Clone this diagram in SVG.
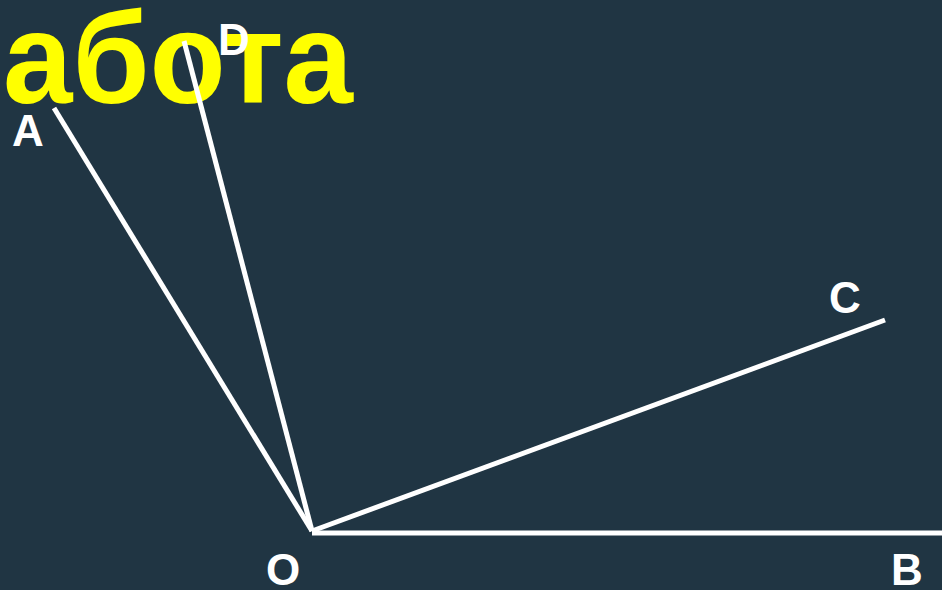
<svg xmlns="http://www.w3.org/2000/svg" width="942" height="590" viewBox="0 0 942 590">
<style>
.ray{stroke:#ffffff;stroke-width:5;fill:none;stroke-linecap:butt}
.lbl{font-family:"Liberation Sans",Arial,sans-serif;font-weight:bold;font-size:44px;fill:#ffffff}
.title{font-family:"Liberation Sans",Arial,sans-serif;font-weight:bold;font-size:130px;fill:#ffff00}
</style>
<rect width="942" height="590" fill="#203543"/>
<g id="title"><text class="title" x="3" y="103" textLength="350" lengthAdjust="spacingAndGlyphs">абота</text></g>
<g id="rays">
<line class="ray" x1="312" y1="531" x2="54" y2="108"/>
<line class="ray" x1="312" y1="531" x2="184" y2="41"/>
<line class="ray" x1="312" y1="531" x2="885" y2="320"/>
<line class="ray" x1="312" y1="533" x2="942" y2="533"/>
</g>
<g id="A"><text class="lbl" x="12" y="146">A</text></g>
<g id="D"><text class="lbl" x="218" y="55">D</text></g>
<g id="C"><text class="lbl" x="829" y="313">C</text></g>
<g id="O"><text class="lbl" x="266" y="585">O</text></g>
<g id="B"><text class="lbl" x="891" y="585">B</text></g>
</svg>
